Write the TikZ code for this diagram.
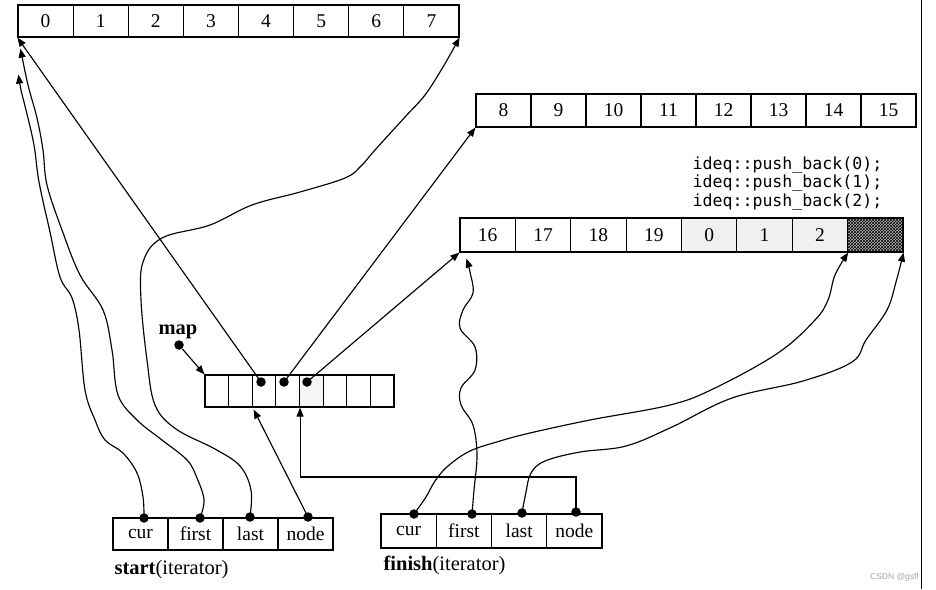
\documentclass[tikz,border=0pt]{standalone}
\usepackage{fontspec}
\setmainfont{Liberation Serif}
\newfontfamily\codefont{DejaVu Sans Mono}
\newfontfamily\wmfont{Liberation Sans}
\usetikzlibrary{arrows.meta,patterns,calc}
\begin{document}
\begin{tikzpicture}[x=1pt,y=-1pt,line width=1.15pt,
  cell/.style={draw,inner sep=0pt,font=\fontsize{19.5}{21}\selectfont},
  dotc/.style={circle,fill=black,draw=none,inner sep=0pt,minimum size=9.5pt},
  arr/.style={-{Triangle[length=9pt,width=7pt]}},
  lbl/.style={inner sep=0pt,font=\fontsize{20.5}{22}\selectfont},
  code/.style={inner sep=0pt,anchor=base east,font=\codefont\fontsize{16.6}{18}\selectfont}]
\useasboundingbox (0,0) rectangle (936,589);
% top buffer 0..7
\foreach \i in {0,...,7}
  \node[cell,minimum width=55.125pt,minimum height=32pt] (t\i) at ({18+55.125*\i+27.5625},21) {\i};
% middle buffer 8..15
\foreach \i/\t in {0/8,1/9,2/10,3/11,4/12,5/13,6/14,7/15}
  \node[cell,minimum width=55pt,minimum height=33pt] (u\i) at ({476+55*\i+27.5},110.5) {\t};
% bottom buffer
\foreach \i/\t in {0/16,1/17,2/18,3/19}
  \node[cell,minimum width=55.375pt,minimum height=34pt] (b\i) at ({460+55.375*\i+27.6875},235) {\t};
\foreach \i/\t in {4/0,5/1,6/2}
  \node[cell,fill=gray!12,minimum width=55.375pt,minimum height=34pt] (b\i) at ({460+55.375*\i+27.6875},235) {\t};
\node[cell,fill=gray!55,postaction={pattern=crosshatch},minimum width=55.375pt,minimum height=34pt] (b7) at ({460+55.375*7+27.6875},235) {};
% code
\node[code] (c1) at (883,169) {ideq::push\_back(0);};
\node[code] (c2) at (883,187.5) {ideq::push\_back(1);};
\node[code] (c3) at (883,206) {ideq::push\_back(2);};
% map
\foreach \i in {0,...,7}
  \node[cell,minimum width=23.625pt,minimum height=32pt] (m\i) at ({205+23.625*\i+11.8125},391) {};
\node[cell,fill=gray!8,minimum width=23.625pt,minimum height=32pt] at (m4) {};
\node[lbl,font=\bfseries\fontsize{20.5}{22}\selectfont] (maplbl) at (178,332) {map};
\node[dotc] (mapdot) at (179,345) {};
\draw[arr] (mapdot) -- (m0.north west);
\node[dotc] (d2) at (261,382) {};
\node[dotc] (d3) at (284,382) {};
\node[dotc] (d4) at (307,382) {};
\draw[arr] (d2.center) -- (t0.south west);
\draw[arr] (d3.center) -- (u0.south west);
\draw[arr] (d4.center) -- (b0.south west);
% start iterator
\foreach \i/\t in {0/cur,1/first,2/last,3/node}
  \node[cell,minimum width=55pt,minimum height=32pt] (s\i) at ({113+55*\i+27.5},534) {\t};
\node[lbl,anchor=base west] (slbl) at (114,574) {\textbf{start}(iterator)};
\node[dotc] (sc) at (144,518) {};
\node[dotc] (sf) at (200,518) {};
\node[dotc] (sl) at (250,517) {};
\node[dotc] (sn) at (308,517) {};
% finish iterator
\foreach \i/\t in {0/cur,1/first,2/last,3/node}
  \node[cell,minimum width=55.25pt,minimum height=34pt] (f\i) at ({381+55.25*\i+27.625},531) {\t};
\node[lbl,anchor=base west] (flbl) at (383,570) {\textbf{finish}(iterator)};
\node[dotc] (fc) at (414,514) {};
\node[dotc] (ff) at (472,514) {};
\node[dotc] (fl) at (522,513) {};
\node[dotc] (fn) at (576,512) {};
% end points of start curves
\coordinate (ea) at ($(t0.south west)+(1,37)$);
\coordinate (eb) at ($(t0.south west)+(3,11)$);
\coordinate (ef) at ($(b0.south west)+(7,6)$);
\coordinate (hy) at (0,477);
% start.cur
\draw[arr] plot[smooth,tension=0.6] coordinates {(sc.center) (143,497) (137,473) (123,453) (105,440) (95,420) (85,390) (79,330) (72,298) (60,277) (50,232) (39,182) (34,145) (26,110) (21,90) (ea)};
% start.first
\draw[arr] plot[smooth,tension=0.6] coordinates {(sf.center) (204,500) (197,478) (187,460) (162,440) (137,420) (118,395) (112,350) (103,310) (80,275) (62,230) (47,185) (43,150) (37,118) (28,85) (eb)};
% start.last
\draw[arr] plot[smooth,tension=0.6] coordinates {(sl.center) (251,490) (240,466) (215,449) (176,429) (155,405) (147,360) (141,300) (143,262) (162,238) (210,225) (252,205) (300,192) (345,178) (361,166) (375,150) (405,117) (425,95) (443,67) (t7.south east)};
% start.node
\draw[arr] (sn.center) -- ($(m2.south west)+(2,2)$);
% finish.node
\draw[arr] (fn.center) -- (fn |- hy) -- (m3.south east |- hy) -- (m3.south east);
% finish.cur
\draw[arr] plot[smooth,tension=0.6] coordinates {(fc.center) (426,497) (435,481) (448,466) (470,451) (500,441) (530,433) (590,420) (670,405) (715,388) (778,353) (815,320) (828,300) (835,275) (b6.south east)};
% finish.first
\draw[arr] plot[smooth,tension=0.6] coordinates {(ff.center) (474,490) (477,455) (473,425) (461,405) (461,388) (475,370) (475,347) (460,328) (463,310) (473,293) (470,272) (ef)};
% finish.last
\draw[arr] plot[smooth,tension=0.6] coordinates {(fl.center) (526,492) (531,473) (545,461) (580,452) (626,446) (672,427) (732,398) (803,381) (852,362) (866,340) (887,310) (896,282) (b7.south east)};
% right border
\coordinate (r1) at (921.5,0);
\coordinate (r2) at (921.5,589);
\draw[line width=1.2pt] (r1) -- (r2);
\node[inner sep=0pt,anchor=base east,font=\wmfont\fontsize{8.5}{9}\selectfont,text=gray!70] (wm) at (919,579) {CSDN @gsfl};
\end{tikzpicture}
\end{document}
